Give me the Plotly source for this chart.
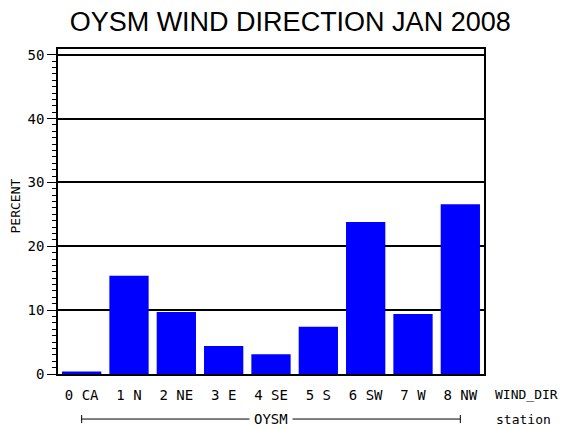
import plotly.graph_objects as go

# Datos
direcciones = ['0 CA', '1 N', '2 NE', '3 E', '4 SE', '5 S', '6 SW', '7 W', '8 NW']
porcentajes = [0.4, 15.4, 9.7, 4.4, 3.1, 7.4, 23.8, 9.4, 26.6]
estacion = 'OYSM'
titulo = 'OYSM WIND DIRECTION JAN 2008'

mono = 'DejaVu Sans Mono'
pie_y = -0.1386  # linea de la estacion, en coords de papel

fig = go.Figure(go.Bar(
    x=direcciones,
    y=porcentajes,
    marker=dict(color='#0000FF', line=dict(width=0)),
    hoverinfo='x+y',
))

# la pagina deja 8px de margen en el body, por eso el lienzo es mas chico
fig.update_layout(
    width=562,
    height=422,
    margin=dict(l=50, r=86, t=41, b=56),
    paper_bgcolor='white',
    plot_bgcolor='white',
    bargap=0.17,
    showlegend=False,
    font=dict(family=mono, size=14, color='black'),
    title=dict(text=titulo, x=0.545, xref='paper', xanchor='center',
               y=1 - 14 / 422, yref='container', yanchor='middle',
               font=dict(family='Liberation Sans, Arial', size=27, color='black')),
)

fig.update_xaxes(
    showline=True, linecolor='black', linewidth=1.5, mirror=True,
    showgrid=False, ticks='', ticklabelstandoff=7,
    tickfont=dict(family=mono, size=14),
)

fig.update_yaxes(
    range=[0, 50.9],
    showline=True, linecolor='black', linewidth=1.5, mirror=True,
    dtick=10, tick0=0, ticks='outside', ticklen=9, tickcolor='black',
    minor=dict(dtick=1, ticks='outside', ticklen=4, tickcolor='black', showgrid=False),
    showgrid=True, gridcolor='black', gridwidth=1.5,
    zeroline=False, layer='above traces',
    tickfont=dict(family=mono, size=14),
)

# titulos de ejes
fig.add_annotation(text='PERCENT', xref='paper', yref='paper', x=-0.0998, y=0.517,
                   xanchor='center', yanchor='middle',
                   textangle=-90, showarrow=False, font=dict(family=mono, size=13))
fig.add_annotation(text='WIND_DIR', xref='paper', yref='paper', x=1.02, y=-0.0616,
                   xanchor='left', yanchor='middle', showarrow=False,
                   font=dict(family=mono, size=13))
fig.add_annotation(text='station', xref='paper', yref='paper', x=1.024, y=pie_y,
                   xanchor='left', yanchor='middle', showarrow=False,
                   font=dict(family=mono, size=13))

# corchete de la estacion
fig.add_shape(type='line', xref='x', yref='paper', x0=0, x1=len(direcciones) - 1,
              y0=pie_y, y1=pie_y, line=dict(color='black', width=1))
for xi in [0, len(direcciones) - 1]:
    fig.add_shape(type='line', xref='x', yref='paper', x0=xi, x1=xi,
                  y0=pie_y - 0.0125, y1=pie_y + 0.0125, line=dict(color='black', width=1))
fig.add_annotation(text=estacion, xref='x', yref='paper', x=(len(direcciones) - 1) / 2,
                   y=pie_y, yanchor='middle', showarrow=False, bgcolor='white',
                   borderpad=4, font=dict(family=mono, size=14))

fig.write_html('out.html')
